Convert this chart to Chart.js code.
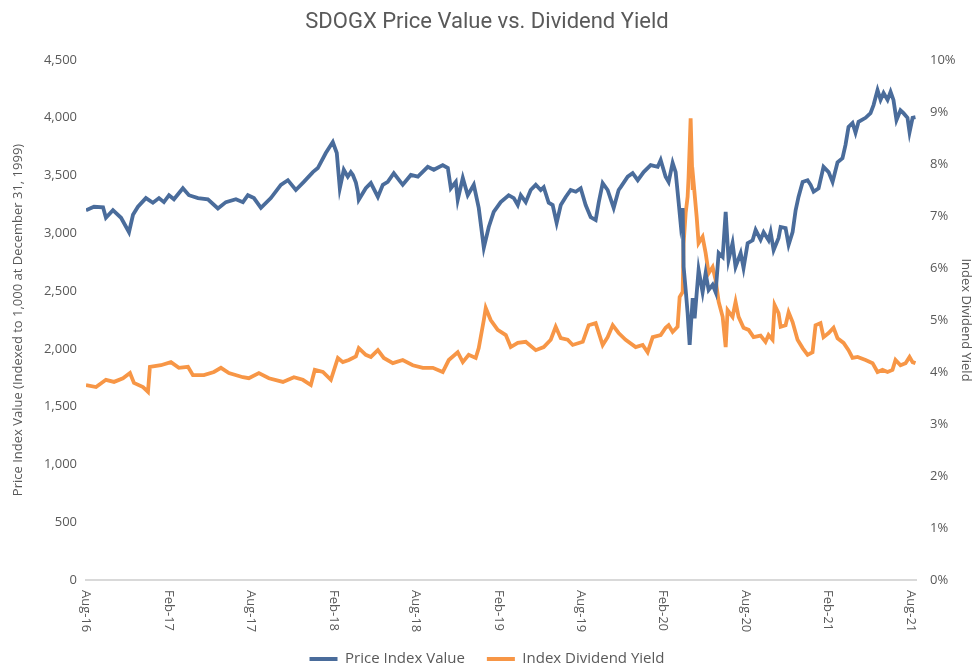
<!DOCTYPE html>
<html lang="en">
<head>
<meta charset="UTF-8">
<title>SDOGX Price Value vs. Dividend Yield</title>
<script src="https://cdn.jsdelivr.net/npm/chart.js"></script>
<style>
  html, body { margin: 0; padding: 0; background: #fff; }
  #wrap { width: 974px; height: 668px; }
</style>
</head>
<body>
<div id="wrap"><canvas id="chart" width="974" height="668"></canvas></div>
<script>
// months since Aug 2016
const tickMonths = [0, 6, 12, 18, 24, 30, 36, 42, 48, 54, 60];
const tickLabels = ['Aug-16', 'Feb-17', 'Aug-17', 'Feb-18', 'Aug-18', 'Feb-19', 'Aug-19', 'Feb-20', 'Aug-20', 'Feb-21', 'Aug-21'];

const priceMonths = [
  0, 0.58, 1.24, 1.45, 1.96, 2.55, 3.13, 3.42, 3.78, 4.36,
  4.87, 5.31, 5.67, 6.04, 6.40, 7.05, 7.49, 8.15, 8.87, 9.60,
  10.18, 10.91, 11.42, 11.78, 12.22, 12.73, 13.45, 14.18, 14.69, 15.27,
  15.85, 16.51, 16.87, 17.45, 17.96, 18.25, 18.47, 18.76, 19.05, 19.27,
  19.42, 19.64, 19.78, 19.85, 20.36, 20.73, 21.24, 21.60, 21.96, 22.40,
  23.05, 23.64, 24.15, 24.87, 25.31, 25.96, 26.33, 26.55, 26.91, 27.05,
  27.42, 27.78, 28.22, 28.58, 28.95, 29.31, 29.67, 30.18, 30.76, 31.13,
  31.42, 31.64, 32.00, 32.36, 32.73, 33.09, 33.31, 33.67, 33.96, 34.25,
  34.55, 34.91, 35.27, 35.64, 36.00, 36.36, 36.73, 37.09, 37.31, 37.60,
  37.96, 38.40, 38.76, 38.91, 39.42, 39.78, 40.15, 40.58, 41.09, 41.60,
  41.82, 42.18, 42.40, 42.69, 42.91, 43.13, 43.27, 43.42, 43.49, 43.64,
  43.78, 43.93, 44.15, 44.29, 44.58, 44.87, 45.09, 45.31, 45.60, 45.82,
  46.04, 46.33, 46.55, 46.76, 47.05, 47.27, 47.64, 47.85, 48.15, 48.51,
  48.73, 49.09, 49.31, 49.67, 49.82, 50.04, 50.40, 50.55, 50.91, 51.13,
  51.42, 51.64, 51.85, 52.15, 52.51, 52.73, 52.95, 53.31, 53.67, 54.04,
  54.33, 54.69, 55.05, 55.27, 55.49, 55.78, 56.00, 56.22, 56.73, 57.09,
  57.31, 57.60, 57.82, 58.04, 58.33, 58.55, 58.76, 58.98, 59.27, 59.49,
  59.78, 59.93, 60.15, 60.36
];
const priceValues = [
  3200, 3230, 3225, 3135, 3200, 3135, 3010, 3160, 3230, 3305,
  3265, 3305, 3270, 3330, 3295, 3390, 3330, 3305, 3295, 3215,
  3270, 3295, 3270, 3330, 3305, 3220, 3305, 3420, 3460, 3375,
  3445, 3530, 3565, 3695, 3790, 3695, 3390, 3550, 3490, 3530,
  3505, 3440, 3360, 3290, 3390, 3435, 3315, 3420, 3445, 3520,
  3420, 3505, 3490, 3575, 3550, 3590, 3565, 3390, 3445, 3290,
  3480, 3330, 3420, 3220, 2875, 3055, 3185, 3270, 3330, 3305,
  3245, 3330, 3270, 3375, 3420, 3375, 3400, 3265, 3245, 3090,
  3245, 3315, 3375, 3360, 3390, 3245, 3140, 3115, 3265, 3435,
  3375, 3220, 3375, 3400, 3490, 3520, 3460, 3530, 3590, 3575,
  3635, 3490, 3445, 3610, 3530, 3265, 3090, 3220, 2710, 2510,
  2310, 2035, 2440, 2265, 2685, 2490, 2655, 2510, 2555, 2490,
  2830, 2795, 3185, 2770, 2915, 2710, 2830, 2700, 2915, 2940,
  3030, 2945, 3010, 2940, 3010, 2855, 2960, 3055, 3045, 2900,
  3010, 3200, 3315, 3445, 3460, 3420, 3360, 3390, 3575, 3530,
  3445, 3615, 3650, 3765, 3920, 3955, 3870, 3965, 4000, 4040,
  4110, 4240, 4155, 4215, 4155, 4225, 4155, 3980, 4065, 4040,
  4000, 3875, 4000, 4005
];

const yieldMonths = [
  0.00, 0.73, 1.45, 2.04, 2.69, 3.20, 3.49, 4.15, 4.51, 4.65,
  5.45, 6.18, 6.76, 7.42, 7.78, 8.58, 9.31, 9.82, 10.40, 11.42,
  11.85, 12.58, 13.31, 14.33, 15.13, 15.78, 16.36, 16.65, 17.24, 17.82,
  18.33, 18.69, 19.13, 19.64, 19.85, 20.36, 20.73, 21.24, 21.67, 22.33,
  23.05, 23.78, 24.51, 25.24, 25.96, 26.40, 27.05, 27.42, 27.85, 28.36,
  28.58, 28.95, 29.09, 29.45, 29.96, 30.55, 30.91, 31.42, 32.00, 32.73,
  33.31, 33.82, 34.18, 34.55, 35.05, 35.42, 36.15, 36.58, 37.09, 37.60,
  37.96, 38.33, 38.76, 39.27, 40.00, 40.51, 40.87, 41.24, 41.82, 42.18,
  42.40, 42.69, 43.05, 43.20, 43.42, 43.49, 43.64, 43.78, 43.85, 44.00,
  44.15, 44.22, 44.44, 44.58, 44.87, 45.09, 45.31, 45.60, 45.82, 46.04,
  46.33, 46.55, 46.69, 47.05, 47.27, 47.49, 47.85, 48.22, 48.58, 49.09,
  49.45, 49.67, 49.96, 50.11, 50.40, 50.55, 50.91, 51.13, 51.42, 51.78,
  52.15, 52.51, 52.87, 53.09, 53.45, 53.67, 54.04, 54.40, 54.69, 55.13,
  55.49, 55.78, 56.15, 56.73, 57.24, 57.60, 57.96, 58.33, 58.69, 58.91,
  59.27, 59.64, 59.93, 60.15, 60.36
];
const yieldValues = [
  3.75, 3.71, 3.85, 3.81, 3.88, 3.98, 3.79, 3.71, 3.62, 4.10,
  4.13, 4.19, 4.08, 4.10, 3.94, 3.94, 4.00, 4.08, 3.98, 3.90,
  3.88, 3.98, 3.88, 3.81, 3.90, 3.85, 3.75, 4.04, 4.00, 3.85,
  4.27, 4.19, 4.23, 4.30, 4.46, 4.33, 4.29, 4.42, 4.27, 4.17,
  4.23, 4.13, 4.08, 4.08, 4.00, 4.23, 4.38, 4.19, 4.33, 4.27,
  4.46, 5.00, 5.23, 5.00, 4.81, 4.71, 4.48, 4.56, 4.58, 4.42,
  4.48, 4.62, 4.87, 4.65, 4.62, 4.52, 4.58, 4.90, 4.94, 4.52,
  4.67, 4.90, 4.75, 4.62, 4.48, 4.52, 4.38, 4.67, 4.71, 4.85,
  4.90, 4.77, 4.87, 5.44, 5.54, 6.48, 7.06, 7.37, 7.75, 8.88,
  7.50, 7.63, 6.98, 6.48, 6.60, 6.29, 5.90, 6.02, 5.77, 5.35,
  5.06, 4.48, 5.19, 5.06, 5.35, 5.06, 4.85, 4.81, 4.67, 4.70,
  4.58, 4.71, 4.62, 5.29, 5.13, 4.87, 4.90, 5.15, 4.96, 4.62,
  4.46, 4.33, 4.38, 4.90, 4.94, 4.67, 4.75, 4.85, 4.65, 4.56,
  4.42, 4.27, 4.29, 4.23, 4.17, 4.00, 4.04, 4.00, 4.04, 4.23,
  4.13, 4.17, 4.29, 4.19, 4.17
];

const textColor = '#595959';
const font = "'Open Sans', sans-serif";

// x tick labels are drawn rotated clockwise (reading top to bottom)
const rotatedXLabels = {
  id: 'rotatedXLabels',
  afterDraw(chart) {
    const xs = chart.scales.x;
    const ctx = chart.ctx;
    ctx.save();
    ctx.fillStyle = textColor;
    ctx.font = "13px " + font;
    ctx.textAlign = 'left';
    ctx.textBaseline = 'middle';
    tickMonths.forEach((m, i) => {
      const px = xs.getPixelForValue(m);
      ctx.save();
      ctx.translate(px, xs.top + 10);
      ctx.rotate(Math.PI / 2);
      ctx.fillText(tickLabels[i], 0, 0);
      ctx.restore();
    });
    ctx.restore();
  }
};

new Chart(document.getElementById('chart'), {
  type: 'line',
  data: {
    datasets: [{
      label: 'Price Index Value',
      data: priceMonths.map((m, i) => ({ x: m, y: priceValues[i] })),
      borderColor: '#4a6c9b',
      backgroundColor: '#4a6c9b',
      borderWidth: 3.8,
      pointRadius: 0,
      pointStyle: 'line',
      tension: 0,
      yAxisID: 'y'
    }, {
      label: 'Index Dividend Yield',
      data: yieldMonths.map((m, i) => ({ x: m, y: yieldValues[i] })),
      borderColor: '#f79646',
      backgroundColor: '#f79646',
      borderWidth: 3.8,
      pointRadius: 0,
      pointStyle: 'line',
      tension: 0,
      yAxisID: 'y2'
    }]
  },
  options: {
    responsive: false,
    animation: false,
    events: [],
    layout: { padding: { left: 0, right: 0, top: 0, bottom: -8.5 } },
    plugins: {
      title: {
        display: true,
        text: 'SDOGX Price Value vs. Dividend Yield',
        color: textColor,
        font: { family: 'Roboto', size: 22, weight: 'normal' },
        padding: { top: 9, bottom: 24.6 }
      },
      legend: {
        position: 'bottom',
        labels: {
          color: textColor,
          font: { family: font, size: 15 },
          usePointStyle: true,
          pointStyleWidth: 28,
          padding: 22
        }
      },
      tooltip: { enabled: false }
    },
    scales: {
      x: {
        type: 'linear',
        min: 0,
        max: 60.4,
        grid: { display: false, drawTicks: false },
        border: { display: true, color: '#d9d9d9', width: 2 },
        ticks: { display: false },
        afterFit(scale) { scale.height = 49.5; }
      },
      y: {
        position: 'left',
        min: 0,
        max: 4500,
        grid: { display: false, drawTicks: false },
        border: { display: false },
        ticks: {
          stepSize: 500,
          color: textColor,
          font: { family: font, size: 13 },
          padding: 9,
          callback: v => v.toLocaleString('en-US')
        },
        title: {
          display: true,
          text: 'Price Index Value (Indexed to 1,000 at December 31, 1999)',
          color: textColor,
          font: { family: font, size: 13 },
          padding: { top: 10, bottom: 0 }
        },
        afterFit(scale) { scale.width = 86; }
      },
      y2: {
        position: 'right',
        min: 0,
        max: 10,
        grid: { display: false, drawTicks: false },
        border: { display: false },
        ticks: {
          stepSize: 1,
          color: textColor,
          font: { family: font, size: 13 },
          padding: 14,
          callback: v => v + '%'
        },
        title: {
          display: true,
          text: 'Index Dividend Yield',
          color: textColor,
          font: { family: font, size: 13 },
          padding: { top: 0, bottom: 0 }
        },
        afterFit(scale) { scale.width = 58; }
      }
    }
  },
  plugins: [rotatedXLabels]
});
</script>
</body>
</html>
